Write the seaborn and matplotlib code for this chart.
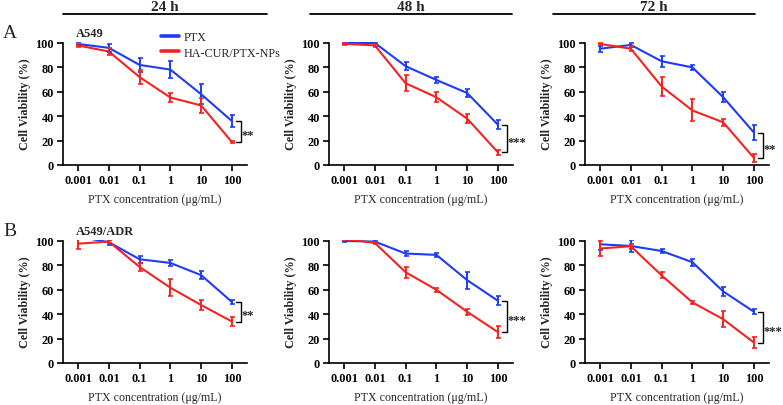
import numpy as np
import pandas as pd
import matplotlib
matplotlib.use("Agg")
import matplotlib.pyplot as plt
from matplotlib.lines import Line2D
import seaborn as sns

# ---------------- data ----------------
conc = [0.001, 0.01, 0.1, 1, 10, 100]
tick_labels = ["0.001", "0.01", "0.1", "1", "10", "100"]
groups = ["PTX", "HA-CUR/PTX-NPs"]

a24_ptx = [99.2, 96.0, 82.0, 78.2, 58.0, 36.0]
a24_ptx_sd = [1.0, 3.0, 5.7, 6.7, 8.0, 5.0]
a24_np = [98.0, 93.0, 72.0, 55.3, 48.8, 18.8]
a24_np_sd = [1.0, 3.0, 5.5, 4.0, 6.3, 1.0]

a48_ptx = [100.0, 100.0, 81.0, 69.7, 59.0, 33.0]
a48_ptx_sd = [1.0, 1.0, 3.5, 2.5, 3.5, 3.5]
a48_np = [99.3, 98.0, 67.0, 55.5, 38.0, 10.4]
a48_np_sd = [1.0, 1.5, 6.5, 4.0, 3.5, 2.0]

a72_ptx = [95.3, 98.4, 85.0, 80.0, 55.6, 26.6]
a72_ptx_sd = [2.5, 1.5, 4.5, 2.0, 4.0, 6.0]
a72_np = [99.2, 95.3, 64.4, 44.7, 35.0, 5.8]
a72_np_sd = [1.0, 2.0, 7.5, 9.0, 3.0, 3.0]

b24_ptx = [103.6, 99.0, 85.0, 82.0, 72.0, 50.0]
b24_ptx_sd = [1.0, 2.0, 3.0, 2.5, 3.5, 1.5]
b24_np = [97.8, 99.5, 78.7, 61.7, 47.5, 34.0]
b24_np_sd = [4.0, 1.5, 3.0, 7.0, 4.0, 3.5]

b48_ptx = [100.0, 99.5, 89.7, 88.6, 67.9, 51.0]
b48_ptx_sd = [0.5, 1.0, 2.0, 1.5, 7.0, 3.5]
b48_np = [101.7, 98.4, 74.4, 60.0, 42.0, 25.3]
b48_np_sd = [1.0, 1.0, 4.5, 1.5, 2.5, 5.0]

b72_ptx = [97.3, 95.9, 91.8, 82.6, 58.7, 42.0]
b72_ptx_sd = [4.5, 5.0, 2.0, 3.0, 3.5, 2.0]
b72_np = [93.8, 95.7, 71.8, 49.7, 35.9, 16.8]
b72_np_sd = [6.0, 2.0, 2.5, 1.5, 6.8, 4.5]

sig_labels = ["**", "***", "**", "**", "***", "***"]
time_titles = ["24 h", "48 h", "72 h"]
row_letters = ["A", "B"]
cell_lines = ["A549", "A549/ADR"]

panels = [
    (a24_ptx, a24_ptx_sd, a24_np, a24_np_sd),
    (a48_ptx, a48_ptx_sd, a48_np, a48_np_sd),
    (a72_ptx, a72_ptx_sd, a72_np, a72_np_sd),
    (b24_ptx, b24_ptx_sd, b24_np, b24_np_sd),
    (b48_ptx, b48_ptx_sd, b48_np, b48_np_sd),
    (b72_ptx, b72_ptx_sd, b72_np, b72_np_sd),
]

# ---------------- style ----------------
sns.set_theme(style="ticks")
plt.rcParams["font.family"] = ["Liberation Serif", "DejaVu Serif"]
plt.rcParams["mathtext.default"] = "regular"

BLUE = "#1f3cf5"
RED = "#f5231f"
palette = {groups[0]: BLUE, groups[1]: RED}

W, H = 783, 406
fig = plt.figure(figsize=(W / 100, H / 100), dpi=100)

lefts = [63, 329, 585]
ax_w = 184
row_bottom_px = [166, 364]
ax_h = 123
YTOP = 100.8

fs_tick = 8.8
fs_ylab = 8.7
fs_xlab = 8.6

for i, (ptx, ptx_sd, npv, np_sd) in enumerate(panels):
    r, c = divmod(i, 3)
    ax = fig.add_axes([lefts[c] / W, 1 - row_bottom_px[r] / H, ax_w / W, ax_h / H])
    df = pd.DataFrame({
        "conc": conc * 2,
        "viab": list(ptx) + list(npv),
        "sd": list(ptx_sd) + list(np_sd),
        "group": [groups[0]] * len(conc) + [groups[1]] * len(conc),
    })
    sns.lineplot(data=df, x="conc", y="viab", hue="group", palette=palette,
                 ax=ax, legend=False, errorbar=None, linewidth=1.5)
    for g in groups:
        sub = df[df["group"] == g]
        ax.errorbar(sub["conc"], sub["viab"], yerr=sub["sd"], fmt="none",
                    ecolor=palette[g], elinewidth=1.4, capsize=1.8, capthick=1.2)
    ax.set_xscale("log")
    ax.set_xlim(10 ** -3.49, 10 ** 2.49)
    ax.set_ylim(0, YTOP)
    ax.spines["left"].set_bounds(0, 100)
    ax.spines["top"].set_visible(False)
    ax.spines["right"].set_visible(False)
    for s in ["left", "bottom"]:
        ax.spines[s].set_linewidth(1.2)
        ax.spines[s].set_color("black")
    ax.set_xticks(conc)
    ax.set_xticklabels(tick_labels)
    ax.xaxis.set_minor_locator(matplotlib.ticker.NullLocator())
    ax.set_yticks([0, 20, 40, 60, 80, 100])
    ax.tick_params(axis="both", which="major", length=4, width=1.2,
                   labelsize=fs_tick, colors="black", pad=2.5)
    for lab in ax.get_xticklabels() + ax.get_yticklabels():
        lab.set_fontweight("bold")
    ax.set_xlabel("PTX concentration (\u03bcg/mL)", fontsize=fs_xlab,
                  fontweight="normal", labelpad=5)
    ax.set_ylabel("Cell Viability (%)", fontsize=fs_ylab, fontweight="bold", labelpad=3)

    # significance bracket between the two 100 µg/mL means
    y1, y2 = ptx[-1], npv[-1]
    xb = 10 ** 2.29
    xl = 10 ** 2.14
    ax.plot([xl, xb, xb, xl], [y1, y1, y2, y2], color="black", lw=1.0,
            clip_on=False, solid_joinstyle="miter")
    ax.text(10 ** 2.32, (y1 + y2) / 2 - 3, sig_labels[i], ha="left", va="center",
            fontsize=9, fontweight="bold", clip_on=False)

    if c == 0:
        ax.text(10 ** -3.07, 1.0 + 9 / ax_h, cell_lines[r],
                transform=ax.get_xaxis_transform(), ha="left", va="center",
                fontsize=9, fontweight="bold")

    if i == 0:
        handles = [Line2D([], [], color=BLUE, lw=2.6), Line2D([], [], color=RED, lw=2.6)]
        fig.legend(handles, groups, loc="upper left",
                   bbox_to_anchor=(161 / W, 1 - 32 / H), frameon=False,
                   handlelength=1.45, handletextpad=0.45,
                   labelspacing=0.3, borderpad=0, borderaxespad=0,
                   prop={"family": ["Liberation Serif"], "weight": "normal", "size": 8.7})

# column titles with underline
title_lines = [(63, 267), (310, 512), (553, 755)]
for (x0, x1), t in zip(title_lines, time_titles):
    fig.add_artist(Line2D([x0 / W, x1 / W], [1 - 15 / H, 1 - 15 / H],
                          color="black", lw=1.3, transform=fig.transFigure))
    fig.text((x0 + x1) / 2 / W, 1 - 7.5 / H, t, ha="center", va="center",
             fontsize=11, fontweight="bold")

# row letters
fig.text(3 / W, 1 - 33 / H, row_letters[0], ha="left", va="center",
         fontsize=14, fontweight="normal")
fig.text(3 / W, 1 - 232 / H, row_letters[1], ha="left", va="center",
         fontsize=14, fontweight="normal")

fig.savefig("out.png", dpi=100)
